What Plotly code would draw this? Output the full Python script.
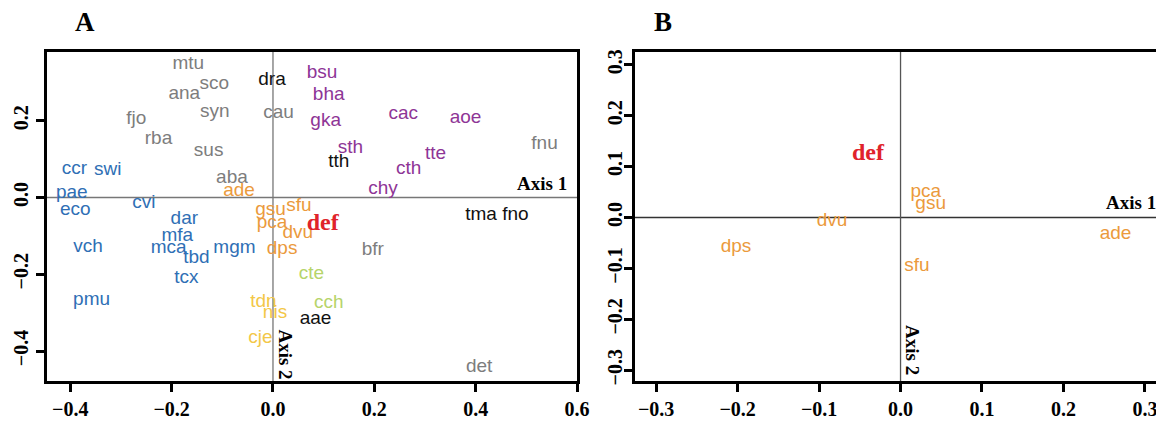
import plotly.graph_objects as go

# ---------------- Panel A data ----------------
a_labels = ["mtu", "sco", "ana", "dra", "bsu", "bha", "syn", "cau", "fjo", "gka",
            "cac", "aoe", "rba", "sus", "fnu", "sth", "tth", "tte", "cth", "ccr",
            "swi", "aba", "chy", "ade", "pae", "eco", "cvi", "gsu", "sfu", "tma fno",
            "dar", "pca", "dvu", "mfa", "vch", "mca", "mgm", "dps", "bfr", "tbd",
            "cte", "tcx", "pmu", "tdn", "cch", "nis", "aae", "cje", "det"]
a_x = [-0.167, -0.116, -0.175, -0.002, 0.097, 0.110, -0.115, 0.011, -0.270, 0.104,
       0.257, 0.380, -0.226, -0.127, 0.536, 0.153, 0.130, 0.321, 0.268, -0.392,
       -0.326, -0.081, 0.217, -0.067, -0.397, -0.390, -0.255, -0.005, 0.051, 0.442,
       -0.175, -0.002, 0.049, -0.189, -0.365, -0.206, -0.076, 0.018, 0.197, -0.151,
       0.076, -0.171, -0.358, -0.019, 0.110, 0.004, 0.084, -0.025, 0.407]
a_y = [0.348, 0.295, 0.269, 0.306, 0.324, 0.266, 0.222, 0.220, 0.204, 0.198,
       0.218, 0.206, 0.153, 0.120, 0.140, 0.129, 0.092, 0.112, 0.074, 0.074,
       0.071, 0.051, 0.021, 0.017, 0.010, -0.034, -0.016, -0.033, -0.022, -0.047,
       -0.057, -0.066, -0.094, -0.100, -0.129, -0.132, -0.132, -0.135, -0.137, -0.157,
       -0.200, -0.210, -0.268, -0.274, -0.276, -0.301, -0.317, -0.367, -0.442]
a_group = ["grey", "grey", "grey", "black", "purple", "purple", "grey", "grey", "grey", "purple",
           "purple", "purple", "grey", "grey", "grey", "purple", "black", "purple", "purple", "blue",
           "blue", "grey", "purple", "orange", "blue", "blue", "blue", "orange", "orange", "black",
           "blue", "orange", "orange", "blue", "blue", "blue", "blue", "orange", "grey", "blue",
           "lime", "blue", "blue", "yellow", "lime", "yellow", "black", "yellow", "grey"]
a_focal = ("def", 0.098, -0.070)

# ---------------- Panel B data ----------------
b_labels = ["dvu", "dps", "pca", "gsu", "ade", "sfu"]
b_x = [-0.084, -0.202, 0.031, 0.037, 0.264, 0.020]
b_y = [-0.007, -0.058, 0.050, 0.026, -0.032, -0.096]
b_focal = ("def", -0.040, 0.124)

xticks_a = [-0.4, -0.2, 0.0, 0.2, 0.4, 0.6]
yticks_a = [-0.4, -0.2, 0.0, 0.2]
xticks_b = [-0.3, -0.2, -0.1, 0.0, 0.1, 0.2, 0.3]
yticks_b = [-0.3, -0.2, -0.1, 0.0, 0.1, 0.2, 0.3]

palette = {"grey": "#7d7d7d", "black": "#111111", "purple": "#8e3596",
           "blue": "#2f6fb5", "orange": "#eb9a3c", "lime": "#b6d46a",
           "yellow": "#f3c747"}
RED = "#e0232b"

# page body has an 8px margin: the figure is sized to fill the rest of the window
OFF = 8
W, H = 1164 - OFF, 421 - OFF
label_font = "Liberation Sans, Arial, sans-serif"
serif = "Liberation Serif, Times New Roman, serif"

def px(x):
    return (x - OFF) / W

def py(y):
    return 1 - (y - OFF) / H

fig = go.Figure()
fig.add_trace(go.Scatter(x=a_x, y=a_y, text=a_labels, mode="text",
                         textposition="middle center",
                         textfont=dict(family=label_font, size=19,
                                       color=[palette[g] for g in a_group]),
                         xaxis="x", yaxis="y", hoverinfo="skip", showlegend=False))
fig.add_trace(go.Scatter(x=[a_focal[1]], y=[a_focal[2]], text=["<b>" + a_focal[0] + "</b>"],
                         mode="text", textposition="middle center",
                         textfont=dict(family=serif, size=24, color=RED),
                         xaxis="x", yaxis="y", hoverinfo="skip", showlegend=False))
fig.add_trace(go.Scatter(x=b_x, y=b_y, text=b_labels, mode="text",
                         textposition="middle center",
                         textfont=dict(family=label_font, size=19, color=palette["orange"]),
                         xaxis="x2", yaxis="y2", hoverinfo="skip", showlegend=False))
fig.add_trace(go.Scatter(x=[b_focal[1]], y=[b_focal[2]], text=["<b>" + b_focal[0] + "</b>"],
                         mode="text", textposition="middle center",
                         textfont=dict(family=serif, size=24, color=RED),
                         xaxis="x2", yaxis="y2", hoverinfo="skip", showlegend=False))

axis_common = dict(showgrid=False, showline=True, linecolor="black", linewidth=3,
                   mirror=True, ticks="outside", ticklen=8, tickwidth=3,
                   tickcolor="black", automargin=False,
                   tickfont=dict(family=serif, size=20, color="black"),
                   zeroline=False)

def fmt(v):
    s = f"{v:.1f}"
    return s.replace("-", "\u2212")

fig.update_layout(
    template="none",
    width=W, height=H, margin=dict(l=0, r=0, t=0, b=0, pad=0),
    paper_bgcolor="white", plot_bgcolor="white",
    xaxis=dict(domain=[px(47), px(577)], range=[-0.446, 0.600], anchor="y",
               tickvals=xticks_a, ticktext=["<b>%s</b>" % fmt(v) for v in xticks_a],
               **axis_common),
    yaxis=dict(domain=[py(381), py(52)], range=[-0.478, 0.379], anchor="x",
               tickvals=yticks_a, ticktext=["<b>%s</b>" % fmt(v) for v in yticks_a],
               tickangle=-90, **axis_common),
    xaxis2=dict(domain=[px(635), px(1162)], range=[-0.326, 0.321], anchor="y2",
                tickvals=xticks_b, ticktext=["<b>%s</b>" % fmt(v) for v in xticks_b],
                **axis_common),
    yaxis2=dict(domain=[py(381), py(52)], range=[-0.321, 0.325], anchor="x2",
                tickvals=yticks_b, ticktext=["<b>%s</b>" % fmt(v) for v in yticks_b],
                tickangle=-90, ticklabelstandoff=-6, **axis_common),
)

# origin lines
fig.add_shape(type="line", xref="x", yref="y", x0=-0.446, x1=0.600, y0=0, y1=0,
              line=dict(color="#777777", width=1.3), layer="below")
fig.add_shape(type="line", xref="x", yref="y", x0=0, x1=0, y0=-0.478, y1=0.379,
              line=dict(color="#777777", width=1.3), layer="below")
fig.add_shape(type="line", xref="x2", yref="y2", x0=-0.326, x1=0.321, y0=0, y1=0,
              line=dict(color="#333333", width=1.3), layer="below")
fig.add_shape(type="line", xref="x2", yref="y2", x0=0, x1=0, y0=-0.321, y1=0.325,
              line=dict(color="#555555", width=1.3), layer="below")

ann_font = dict(family=serif, size=19, color="black")
fig.add_annotation(x=0.585, y=0.004, xref="x", yref="y", text="<b>Axis 1</b>",
                   showarrow=False, xanchor="right", yanchor="bottom", font=ann_font)
fig.add_annotation(x=0.025, y=-0.408, xref="x", yref="y", text="<b>Axis 2</b>",
                   showarrow=False, textangle=90, font=ann_font)
fig.add_annotation(x=0.316, y=0.004, xref="x2", yref="y2", text="<b>Axis 1</b>",
                   showarrow=False, xanchor="right", yanchor="bottom", font=ann_font)
fig.add_annotation(x=0.014, y=-0.26, xref="x2", yref="y2", text="<b>Axis 2</b>",
                   showarrow=False, textangle=90, font=ann_font)

fig.add_annotation(x=px(85), y=py(22), xref="paper", yref="paper", text="<b>A</b>",
                   xanchor="center", yanchor="middle",
                   showarrow=False, font=dict(family=serif, size=27, color="black"))
fig.add_annotation(x=px(663), y=py(22), xref="paper", yref="paper", text="<b>B</b>",
                   xanchor="center", yanchor="middle",
                   showarrow=False, font=dict(family=serif, size=27, color="black"))

fig.write_html("out.html")
